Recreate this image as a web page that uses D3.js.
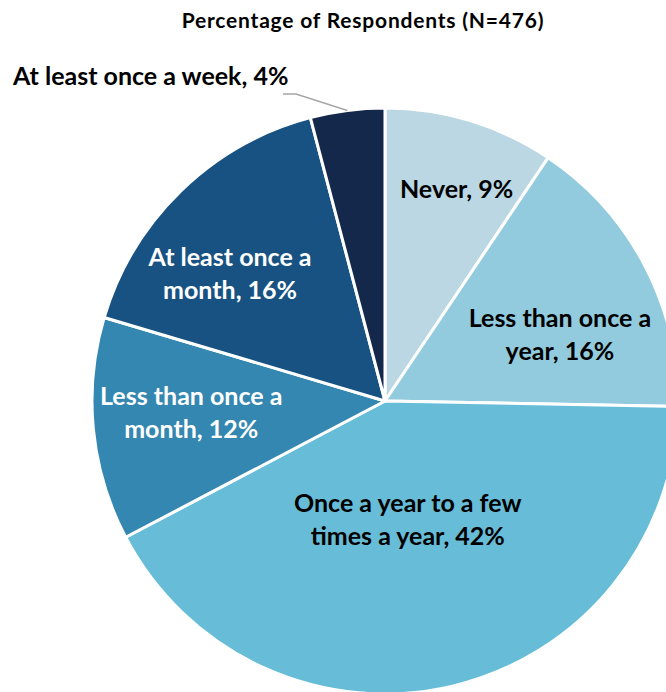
<!DOCTYPE html>
<html>
<head>
<meta charset="utf-8">
<script src="https://cdn.jsdelivr.net/npm/d3@7"></script>
<style>
  body { margin: 0; background: #fff; }
  text { font-family: Lato, "Open Sans", sans-serif; font-weight: bold; }
</style>
</head>
<body>
<div id="chart"></div>
<script>
// data
var categories = ["Never", "Less than once a year", "Once a year to a few times a year",
                  "Less than once a month", "At least once a month", "At least once a week"];
var values = [9.4, 15.9, 42.0, 12.3, 16.3, 4.1];
var shownPct = ["9%", "16%", "42%", "12%", "16%", "4%"];
// how each label breaks over lines
var labelLines = [
  ["Never, 9%"],
  ["Less than once a", "year, 16%"],
  ["Once a year to a few", "times a year, 42%"],
  ["Less than once a", "month, 12%"],
  ["At least once a", "month, 16%"],
  ["At least once a week, 4%"]
];
var colors = ["#bad7e3", "#92cbdd", "#67bdd7", "#3487b0", "#175282", "#14284b"];
var textColors = ["#000", "#000", "#000", "#fff", "#fff", "#000"];

// layout
var width = 666, height = 692;
var cx = 385, cy = 401, radius = 293;
// nudge of the label from the slice centroid
var labelNudge = [[29, -63], [45, -6], [-11, -32], [-48, -10], [-53, -30], null];
var lineH = 33;

var svg = d3.select("#chart")
  .append("svg")
  .attr("width", width)
  .attr("height", height);

svg.append("text")
  .attr("x", 363)
  .attr("y", 28)
  .style("text-anchor", "middle")
  .style("font-size", "21px")
  .style("letter-spacing", "0.8px")
  .style("fill", "#000")
  .text("Percentage of Respondents (N=476)");

var data = categories.map(function(c, i) { return {cat: c, value: values[i], i: i}; });

var pie = d3.pie()
  .sort(null)
  .value(function(d) { return d.value; });

var arc = d3.arc().innerRadius(0).outerRadius(radius);
var outerArc = d3.arc().innerRadius(radius).outerRadius(radius);

var g = svg.append("g")
  .attr("transform", "translate(" + cx + "," + cy + ")");

var arcs = pie(data);

g.selectAll("path")
  .data(arcs)
  .enter()
  .append("path")
  .attr("d", arc)
  .attr("fill", function(d) { return colors[d.data.i]; })
  .attr("stroke", "#fff")
  .attr("stroke-width", 3)
  .attr("stroke-linejoin", "round");

// inside labels
arcs.forEach(function(d) {
  var i = d.data.i;
  if (!labelNudge[i]) return;
  var c = arc.centroid(d);
  var t = g.append("text")
    .attr("x", c[0] + labelNudge[i][0])
    .attr("y", c[1] + labelNudge[i][1])
    .style("text-anchor", "middle")
    .style("font-size", "25px")
    .style("fill", textColors[i]);
  labelLines[i].forEach(function(line, k) {
    t.append("tspan")
      .attr("x", c[0] + labelNudge[i][0])
      .attr("dy", k == 0 ? 0 : lineH)
      .text(line);
  });
});

// week label outside with leader line
var wk = arcs[5];
var p0 = outerArc.centroid(wk);
g.append("polyline")
  .attr("points", [[p0[0], p0[1]], [296 - cx, 94 - cy], [283 - cx, 94 - cy]].join(" "))
  .attr("fill", "none")
  .attr("stroke", "#a6a6a6")
  .attr("stroke-width", 1.5);

svg.append("text")
  .attr("x", 13)
  .attr("y", 85)
  .style("font-size", "25px")
  .style("fill", "#000")
  .text(labelLines[5][0]);
</script>
</body>
</html>
